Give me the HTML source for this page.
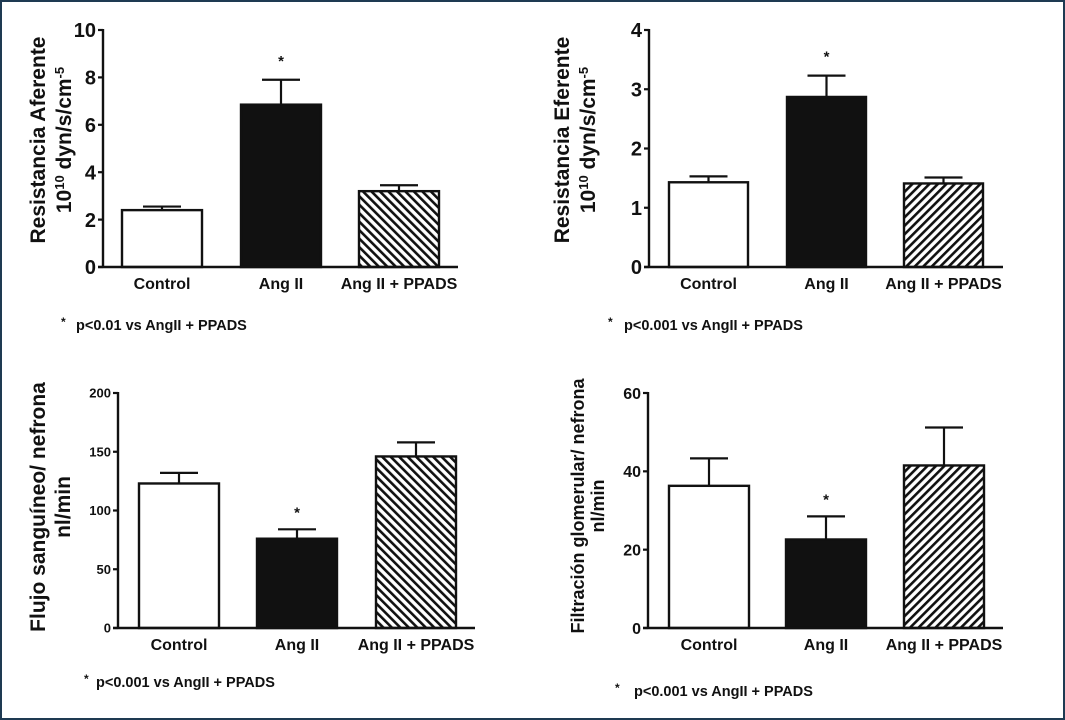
<!DOCTYPE html>
<html><head><meta charset="utf-8"><style>
html,body{margin:0;padding:0;background:#fff;}
#frame{position:absolute;left:0;top:0;width:1061px;height:716px;border:2px solid #1e3a52;background:#fff;}
svg{position:absolute;left:0;top:0;}
text{font-family:"Liberation Sans",Arial,sans-serif;font-weight:bold;fill:#111;}
</style></head><body>
<div id="frame"></div>
<svg id="fig" width="1065" height="720">
<defs>
<pattern id="hatchBack" patternUnits="userSpaceOnUse" width="6" height="6" patternTransform="rotate(-45)">
<rect width="6" height="6" fill="#fff"/><rect x="0" y="0" width="2.6" height="6" fill="#111"/></pattern>
<pattern id="hatchFwd" patternUnits="userSpaceOnUse" width="6" height="6" patternTransform="rotate(45)">
<rect width="6" height="6" fill="#fff"/><rect x="0" y="0" width="2.6" height="6" fill="#111"/></pattern>
</defs>
</svg>
<script>
const categories = ["Control","Ang II","Ang II + PPADS"];
const afValues = [2.4, 6.85, 3.2];
const afErrors = [0.15, 1.05, 0.25];
const afTicks = [0,2,4,6,8,10];
const efValues = [1.43, 2.87, 1.41];
const efErrors = [0.10, 0.36, 0.10];
const efTicks = [0,1,2,3,4];
const flValues = [123, 76, 146];
const flErrors = [9, 8, 12];
const flTicks = [0,50,100,150,200];
const fgValues = [36.3, 22.6, 41.5];
const fgErrors = [7.0, 5.9, 9.7];
const fgTicks = [0,20,40,60];
const sigIndex = 1;

const NS = "http://www.w3.org/2000/svg";
const svg = document.getElementById("fig");
function mk(tag, attrs, parent){const e=document.createElementNS(NS,tag);for(const k in attrs)e.setAttribute(k,attrs[k]);(parent||svg).appendChild(e);return e;}

function panel(cfg){
  const g = mk("g",{});
  
  
  const ymax = cfg.ticks[cfg.ticks.length-1];
  const y = v => cfg.y0 - (v/ymax)*(cfg.y0-cfg.yTop);
  const x = i => cfg.bx[i];
  const fills = ["#fff","#111","url(#"+cfg.hatch+")"];
  cfg.values.forEach((v,i)=>{
    const top = y(v), errTop = y(v+cfg.errors[i]), cx = x(i)+cfg.bw/2;
    const eb = mk("line",{x1:cx,x2:cx,y1:top,y2:errTop,stroke:"#111","stroke-width":2.2},g);
    
    
    const cap = mk("line",{x1:cx-19,x2:cx+19,y1:errTop,y2:errTop,stroke:"#111","stroke-width":2.2},g);
    
    
    const r = mk("rect",{x:x(i),y:top,width:cfg.bw,height:cfg.y0-top,fill:fills[i],stroke:"#111","stroke-width":2.4},g);
    
    
    const t = mk("text",{x:cx,y:cfg.catY,"text-anchor":"middle","font-size":cfg.catFs},g);
    t.textContent = categories[i];
    
    
    if(i===sigIndex){
      const s = mk("text",{x:cx,y:errTop-cfg.starGap,"text-anchor":"middle","font-size":15,"font-weight":"normal"},g);
      s.textContent = "*";
      
      
    }
  });
  const ya = mk("line",{x1:cfg.ax,x2:cfg.ax,y1:cfg.yTop-1,y2:cfg.y0+1,stroke:"#111","stroke-width":2.4},g);
  
  
  const xa = mk("line",{x1:cfg.ax-5,x2:cfg.xEnd,y1:cfg.y0,y2:cfg.y0,stroke:"#111","stroke-width":2.4},g);
  
  
  cfg.ticks.forEach(tv=>{
    const ty=y(tv);
    const tk = mk("line",{x1:cfg.ax-5,x2:cfg.ax,y1:ty,y2:ty,stroke:"#111","stroke-width":2.2},g);
    
    
    const tl = mk("text",{x:cfg.ax-7,y:ty+cfg.tickFs*0.36,"text-anchor":"end","font-size":cfg.tickFs},g);
    tl.textContent = tv;
    
    
  });
  cfg.title.forEach((ln,k)=>{
    const t = mk("text",{x:0,y:0,"text-anchor":"middle","font-size":cfg.titleFs,transform:"translate("+ln.x+","+cfg.titleCy+") rotate(-90)"},g);
    t.innerHTML = ln.html;
    
    
  });
  const s = mk("text",{x:cfg.fnStarX,y:cfg.fnY,"font-size":12},g);
  s.textContent="*";
  
  
  const f = mk("text",{x:cfg.fnX,y:cfg.fnY+4,"font-size":14.5},g);
  f.textContent = cfg.fn;
  
  
}

panel({name:"afferent-resistance-chart",values:afValues,errors:afErrors,ticks:afTicks,hatch:"hatchBack",
  ax:103,xEnd:458,yTop:30,y0:267,bx:[122,241,359],bw:80,catY:289,catFs:16,tickFs:20,starGap:14,
  title:[{x:45,html:"Resistancia Aferente"},{x:71,html:'10<tspan dy="-7" font-size="13">10</tspan><tspan dy="7"> dyn/s/cm</tspan><tspan dy="-7" font-size="13">-5</tspan>'}],
  titleFs:21,titleCy:140,fnStarX:61,fnY:326,fnX:76,fn:"p<0.01 vs AngII + PPADS"});
panel({name:"efferent-resistance-chart",values:efValues,errors:efErrors,ticks:efTicks,hatch:"hatchFwd",
  ax:649,xEnd:1003,yTop:30,y0:267,bx:[669,787,904],bw:79,catY:289,catFs:16,tickFs:20,starGap:14,
  title:[{x:569,html:"Resistancia Eferente"},{x:595,html:'10<tspan dy="-7" font-size="13">10</tspan><tspan dy="7"> dyn/s/cm</tspan><tspan dy="-7" font-size="13">-5</tspan>'}],
  titleFs:21,titleCy:140,fnStarX:608,fnY:326,fnX:624,fn:"p<0.001 vs AngII + PPADS"});
panel({name:"blood-flow-chart",values:flValues,errors:flErrors,ticks:flTicks,hatch:"hatchBack",
  ax:118,xEnd:475,yTop:393,y0:628,bx:[139,257,376],bw:80,catY:650,catFs:16,tickFs:13,starGap:12,
  title:[{x:45,html:"Flujo sanguíneo/ nefrona"},{x:70,html:"nl/min"}],
  titleFs:21,titleCy:507,fnStarX:84,fnY:683,fnX:96,fn:"p<0.001 vs AngII + PPADS"});
panel({name:"glomerular-filtration-chart",values:fgValues,errors:fgErrors,ticks:fgTicks,hatch:"hatchFwd",
  ax:648,xEnd:1003,yTop:393,y0:628,bx:[669,786,904],bw:80,catY:650,catFs:16,tickFs:16,starGap:12,
  title:[{x:584,html:"Filtración glomerular/ nefrona"},{x:604,html:"nl/min"}],
  titleFs:18,titleCy:506,fnStarX:615,fnY:692,fnX:634,fn:"p<0.001 vs AngII + PPADS"});
</script>
</body></html>
